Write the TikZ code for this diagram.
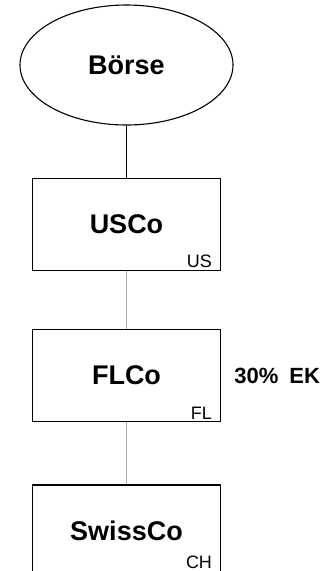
\documentclass[tikz,border=0pt]{standalone}
\usepackage{fontspec}
\setmainfont{Liberation Sans}
\usepackage{xcolor}
\usetikzlibrary{positioning,shapes.geometric}

\definecolor{linkgray}{HTML}{ABABAB}

\begin{document}
\begin{tikzpicture}[
  firm/.style={draw, line width=1.4pt, minimum width=188pt,
               minimum height=92pt, align=center,
               font=\fontsize{27}{30}\selectfont\bfseries},
  market/.style={draw, ellipse, line width=1.1pt, minimum width=213pt,
                 minimum height=120pt, font=\fontsize{27}{30}\selectfont\bfseries},
  country/.style={anchor=south east, inner sep=0pt,
                  font=\fontsize{18}{20}\selectfont},
  link/.style={line width=1.2pt, linkgray},
  node distance=52pt
]
\useasboundingbox (0,0) rectangle (322pt,-571pt);

\node[market] (boerse) at (126.5pt,-65pt) {Börse};
\node[firm, below=52pt of boerse] (usco) {USCo};
\node[firm, below=58pt of usco] (flco) {FLCo};
\node[firm, below=62pt of flco] (swissco) {SwissCo};

% Ansässigkeit
\node[country] (us) at ([xshift=-9pt, yshift=3pt]usco.south east) {US};
\node[country] (fl) at ([xshift=-9pt, yshift=3pt]flco.south east) {FL};
\node[country] (ch) at ([xshift=-9pt, yshift=9pt]swissco.south east) {CH};

\node[anchor=west, inner sep=0pt, right=13pt of flco,
      font=\fontsize{22}{24}\selectfont\bfseries] (ek) {30\%\hspace{0.5em}EK};

\draw[line width=1.1pt] (boerse) -- (usco);
\draw[link] (usco) -- (flco);
\draw[link] (flco) -- (swissco);
\end{tikzpicture}
\end{document}
